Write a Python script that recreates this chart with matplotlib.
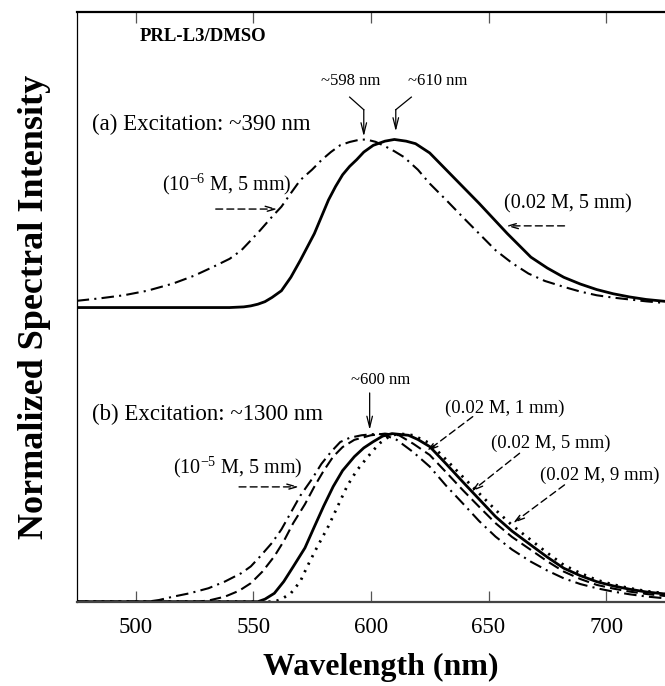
import matplotlib
matplotlib.use("Agg")
import matplotlib.pyplot as plt

plt.rcParams['font.family'] = ['Liberation Serif', 'DejaVu Serif']
plt.rcParams['mathtext.fontset'] = 'custom'
plt.rcParams['mathtext.rm'] = 'Liberation Serif'
plt.rcParams['mathtext.it'] = 'Liberation Serif:italic'
plt.rcParams['mathtext.bf'] = 'Liberation Serif:bold'

# ---------------- data ----------------
offset_a = 1.75   # vertical offset of panel (a)

# Panel (a): excitation ~390 nm
a_dil_wl = [475, 485, 495, 505, 516, 525, 533, 540, 545, 549, 553, 558, 562, 566,
            570, 575, 579, 583, 587, 591, 595, 598, 602, 606, 610, 614, 620, 625,
            632, 639, 646, 653, 660, 667, 674, 682, 689, 696, 703, 710, 717, 725]
a_dil_int = [0.04, 0.055, 0.073, 0.10, 0.143, 0.19, 0.242, 0.29, 0.341, 0.40, 0.46,
             0.54, 0.60, 0.68, 0.758, 0.82, 0.877, 0.925, 0.966, 0.985, 0.998, 1.0,
             0.986, 0.96, 0.93, 0.896, 0.82, 0.738, 0.64, 0.539, 0.44, 0.341, 0.265,
             0.202, 0.158, 0.123, 0.095, 0.073, 0.059, 0.048, 0.037, 0.027]

a_conc_wl = [475, 500, 540, 546, 549, 552, 555, 558, 562, 566, 570, 573, 576, 579,
             582, 585, 588, 591, 594, 597, 601, 606, 610, 615, 619, 625, 632, 639,
             646, 652, 658, 663, 668, 675, 682, 689, 696, 703, 710, 717, 725]
a_conc_int = [0.0, 0.0, 0.0, 0.004, 0.01, 0.02, 0.035, 0.06, 0.10, 0.18, 0.28, 0.36,
              0.44, 0.54, 0.64, 0.72, 0.79, 0.84, 0.88, 0.925, 0.965, 0.99, 1.0,
              0.99, 0.975, 0.92, 0.82, 0.72, 0.62, 0.53, 0.44, 0.37, 0.30, 0.235,
              0.18, 0.14, 0.107, 0.082, 0.063, 0.048, 0.037]

# Panel (b): excitation ~1300 nm
b_dil_wl = [475, 505, 510, 516, 523, 531, 538, 545, 549, 553, 558, 562, 566, 570,
            575, 579, 583, 587, 591, 596, 603, 607, 611, 618, 625, 632, 639, 646,
            653, 660, 668, 675, 682, 689, 696, 703, 710, 717, 725]
b_dil_int = [0.0, 0.0, 0.01, 0.03, 0.05, 0.08, 0.12, 0.17, 0.21, 0.27, 0.35, 0.43,
             0.53, 0.63, 0.73, 0.82, 0.89, 0.95, 0.975, 0.99, 1.0, 0.985, 0.963,
             0.89, 0.804, 0.69, 0.586, 0.48, 0.387, 0.31, 0.238, 0.185, 0.139,
             0.105, 0.08, 0.06, 0.044, 0.031, 0.02]

b_1mm_wl = [475, 527, 532, 538, 544, 549, 554, 559, 563, 567, 572, 576, 580, 584,
            588, 593, 600, 606, 612, 618, 625, 632, 639, 646, 653, 660, 668, 675,
            682, 689, 696, 703, 710, 717, 725]
b_1mm_int = [0.0, 0.0, 0.01, 0.03, 0.065, 0.11, 0.18, 0.27, 0.36, 0.467, 0.58,
             0.685, 0.78, 0.863, 0.92, 0.963, 0.99, 1.0, 0.99, 0.94, 0.873, 0.77,
             0.665, 0.565, 0.467, 0.385, 0.308, 0.24, 0.179, 0.135, 0.10, 0.078,
             0.06, 0.046, 0.034]

b_5mm_wl = [475, 552, 555, 559, 563, 567, 572, 576, 580, 584, 588, 593, 597, 601,
            605, 609, 616, 620, 625, 632, 639, 646, 653, 660, 668, 675, 682, 689,
            696, 703, 710, 717, 725]
b_5mm_int = [0.0, 0.0, 0.015, 0.05, 0.12, 0.208, 0.32, 0.446, 0.57, 0.685, 0.78,
             0.863, 0.915, 0.952, 0.985, 1.0, 0.99, 0.965, 0.923, 0.82, 0.714,
             0.61, 0.506, 0.42, 0.337, 0.265, 0.199, 0.155, 0.119, 0.094, 0.074,
             0.058, 0.046]

b_9mm_wl = [475, 559, 562, 566, 570, 573, 577, 582, 586, 590, 594, 598, 601, 604,
            608, 612, 618, 625, 632, 639, 646, 653, 660, 668, 675, 682, 689, 696,
            703, 710, 717, 725]
b_9mm_int = [0.0, 0.0, 0.015, 0.05, 0.12, 0.21, 0.32, 0.45, 0.57, 0.69, 0.78, 0.85,
             0.90, 0.945, 0.985, 1.0, 0.99, 0.943, 0.845, 0.744, 0.645, 0.546,
             0.455, 0.367, 0.29, 0.218, 0.17, 0.129, 0.102, 0.08, 0.063, 0.05]

x_ticks = [500, 550, 600, 650, 700]

# ---------------- figure ----------------
fig = plt.figure(figsize=(6.65, 6.86), dpi=100)
ax = fig.add_axes([0.1153, 0.1229, 0.8847, 0.8600])

dashdot = (0, (6, 2.5, 1, 2.5))
dashed = (0, (5.5, 2.5))
dotted = (0, (0.8, 2.2))

ax.plot(a_dil_wl, [v + offset_a for v in a_dil_int], color='black', lw=1.5, ls=dashdot)
ax.plot(a_conc_wl, [v + offset_a for v in a_conc_int], color='black', lw=2.0, ls='-')

ax.plot(b_dil_wl, b_dil_int, color='black', lw=1.5, ls=dashdot)
ax.plot(b_1mm_wl, b_1mm_int, color='black', lw=1.5, ls=dashed)
ax.plot(b_5mm_wl, b_5mm_int, color='black', lw=2.0, ls='-')
ax.plot(b_9mm_wl, b_9mm_int, color='black', lw=2.0, ls=dotted)

ax.set_xlim(475, 725)
ax.set_ylim(0, 3.51)
ax.set_xticks(x_ticks)
ax.set_xticklabels([str(t) for t in x_ticks])
ax.set_yticks([])
ax.tick_params(axis='x', direction='in', length=7.7, width=0.9, color='#555555',
               top=True, labeltop=False, labelsize=16.5, pad=11)
ax.spines['right'].set_visible(False)
ax.spines['top'].set_linewidth(1.6)
ax.spines['left'].set_linewidth(0.9)
ax.spines['bottom'].set_linewidth(1.6)
ax.spines['bottom'].set_color('#444444')

fig.text(0.573, 0.016, 'Wavelength (nm)', fontsize=23, fontweight='bold',
         ha='center', va='baseline')
fig.text(0.052, 0.553, 'Normalized Spectral Intensity', fontsize=26,
         fontweight='bold', rotation=90, ha='center', va='center')

# ---------------- annotations ----------------
ax.text(501.9, 3.333, 'PRL-L3/DMSO', fontsize=13.5, fontweight='bold',
        ha='left', va='baseline')
ax.text(481.7, 2.807, '(a) Excitation: ~390 nm', fontsize=16.5, ha='left', va='baseline')
ax.text(481.7, 1.081, '(b) Excitation: ~1300 nm', fontsize=16.5, ha='left', va='baseline')

small = 12
ax.text(591.6, 3.075, '~598 nm', fontsize=small, ha='center', va='baseline')
ax.text(628.5, 3.075, '~610 nm', fontsize=small, ha='center', va='baseline')
ax.text(604.3, 1.296, '~600 nm', fontsize=small, ha='center', va='baseline')

arr = dict(arrowstyle='->,head_length=0.8,head_width=0.2', color='black', lw=0.9,
           shrinkA=0, shrinkB=0)
# bent arrows
ax.plot([591.0, 597.0], [3.002, 2.927], color='black', lw=0.9)
ax.annotate('', xy=(597.0, 2.768), xytext=(597.0, 2.927), arrowprops=arr)
ax.plot([617.2, 610.6], [3.002, 2.927], color='black', lw=0.9)
ax.annotate('', xy=(610.6, 2.798), xytext=(610.6, 2.927), arrowprops=arr)
ax.annotate('', xy=(599.5, 1.022), xytext=(599.5, 1.242), arrowprops=arr)

lab_a = 14.5
lab_b = 13.5
darr = dict(arrowstyle='->,head_length=0.7,head_width=0.2', color='black', lw=1.0,
            linestyle=(0, (5, 3)), shrinkA=0, shrinkB=0)

ax.text(538.7, 2.480, '(10$^{-6}$ M, 5 mm)', fontsize=lab_a, ha='center', va='center')
ax.annotate('', xy=(560.3, 2.336), xytext=(534.1, 2.336), arrowprops=darr)
ax.text(683.7, 2.367, '(0.02 M, 5 mm)', fontsize=lab_a, ha='center', va='center')
ax.annotate('', xy=(657.5, 2.236), xytext=(682.3, 2.236), arrowprops=darr)

ax.text(543.3, 0.802, '(10$^{-5}$ M, 5 mm)', fontsize=lab_a, ha='center', va='center')
ax.annotate('', xy=(569.5, 0.683), xytext=(544.0, 0.683), arrowprops=darr)

ax.text(656.9, 1.151, '(0.02 M, 1 mm)', fontsize=lab_b, ha='center', va='center')
ax.annotate('', xy=(623.6, 0.893), xytext=(643.3, 1.101), arrowprops=darr)
ax.text(676.3, 0.943, '(0.02 M, 5 mm)', fontsize=lab_b, ha='center', va='center')
ax.annotate('', xy=(642.7, 0.655), xytext=(663.2, 0.883), arrowprops=darr)
ax.text(697.2, 0.754, '(0.02 M, 9 mm)', fontsize=lab_b, ha='center', va='center')
ax.annotate('', xy=(660.4, 0.467), xytext=(682.3, 0.695), arrowprops=darr)

fig.savefig('out.png', dpi=100)
